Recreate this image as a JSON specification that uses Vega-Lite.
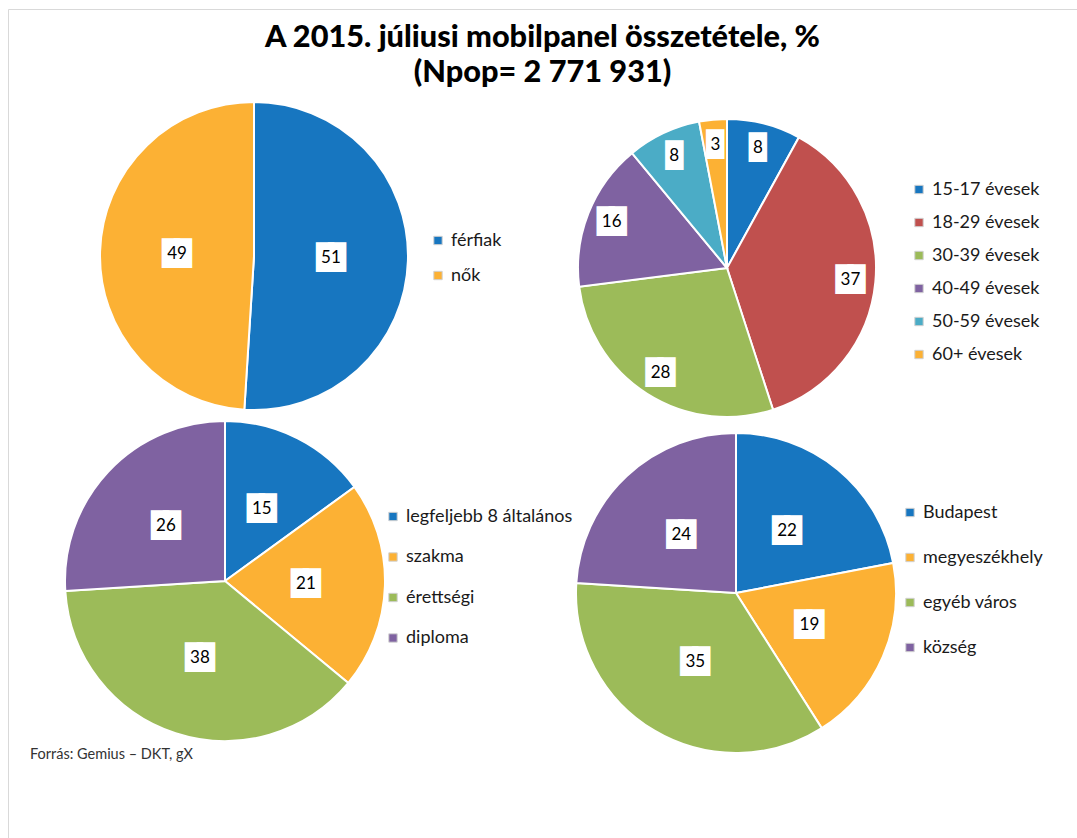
{
  "$schema": "https://vega.github.io/schema/vega-lite/v6.json",
  "width": 1069,
  "height": 829,
  "autosize": {"type": "none"},
  "padding": {"left": 8, "top": 9, "right": 0, "bottom": 0},
  "background": "white",
  "config": {"view": {"stroke": "#d9d9d9", "strokeWidth": 1}, "font": "Lato", "legend": {"labelLimit": 400}},
  "title": {
    "text": ["A 2015. júliusi mobilpanel összetétele, %", "(Npop= 2 771 931)"],
    "font": "Lato", "fontSize": 30.7, "fontWeight": 900, "color": "#000000",
    "lineHeight": 35, "anchor": "middle", "frame": "group", "offset": -80
  },
  "layer": [
    {
      "data": {"values": [
        {"pie": "nem", "cat": "férfiak", "v": 51, "i": 1},
        {"pie": "nem", "cat": "nők", "v": 49, "i": 2}
      ]},
      "encoding": {
        "x": {"field": "pie", "type": "nominal", "axis": null, "scale": {"range": [246, 246]}},
        "y": {"field": "pie", "type": "nominal", "axis": null, "scale": {"range": [247, 247]}},
        "theta": {"field": "v", "type": "quantitative", "stack": true},
        "order": {"field": "i", "type": "quantitative"}
      },
      "layer": [
        {"mark": {"type": "arc", "radius": 154, "stroke": "white", "strokeWidth": 2},
         "encoding": {"color": {"field": "cat", "type": "nominal",
           "scale": {"domain": ["férfiak", "nők"], "range": ["#1776c0", "#fcb134"]},
           "legend": {"orient": "none", "legendX": 421, "legendY": 222.5, "title": null, "padding": 0,
             "symbolType": "square", "symbolSize": 70, "symbolStrokeColor": "#d0d0d0", "symbolStrokeWidth": 1,
             "labelFont": "Lato", "labelFontSize": 18, "labelColor": "#1a1a1a", "labelOffset": 4, "labelLimit": 400, "rowPadding": 17}}}},
        {"mark": {"type": "text", "radius": 77, "font": "DejaVu Sans Mono", "fontSize": 20, "color": "white", "stroke": "white", "strokeWidth": 6, "strokeJoin": "miter"},
         "encoding": {"detail": {"field": "cat"}, "text": {"condition": {"test": "datum.v >= 10", "value": "██"}, "value": "█"}}},
        {"mark": {"type": "text", "radius": 77, "fontSize": 17, "color": "#000000"},
         "encoding": {"detail": {"field": "cat"}, "text": {"field": "v", "type": "quantitative"}}}
      ]
    },
    {
      "data": {"values": [
        {"pie": "kor", "cat": "15-17 évesek", "v": 8, "i": 1},
        {"pie": "kor", "cat": "18-29 évesek", "v": 37, "i": 2},
        {"pie": "kor", "cat": "30-39 évesek", "v": 28, "i": 3},
        {"pie": "kor", "cat": "40-49 évesek", "v": 16, "i": 4},
        {"pie": "kor", "cat": "50-59 évesek", "v": 8, "i": 5},
        {"pie": "kor", "cat": "60+ évesek", "v": 3, "i": 6}
      ]},
      "encoding": {
        "x": {"field": "pie", "type": "nominal", "axis": null, "scale": {"range": [719, 719]}},
        "y": {"field": "pie", "type": "nominal", "axis": null, "scale": {"range": [259, 259]}},
        "theta": {"field": "v", "type": "quantitative", "stack": true},
        "order": {"field": "i", "type": "quantitative"}
      },
      "layer": [
        {"mark": {"type": "arc", "radius": 149, "stroke": "white", "strokeWidth": 2},
         "encoding": {"color": {"field": "cat", "type": "nominal",
           "scale": {"domain": ["15-17 évesek", "18-29 évesek", "30-39 évesek", "40-49 évesek", "50-59 évesek", "60+ évesek"],
                     "range": ["#1776c0", "#c0504e", "#9cbb59", "#7f62a1", "#4bacc6", "#fcb134"]},
           "legend": {"orient": "none", "legendX": 902, "legendY": 171.5, "title": null, "padding": 0,
             "symbolType": "square", "symbolSize": 70, "symbolStrokeColor": "#d0d0d0", "symbolStrokeWidth": 1,
             "labelFont": "Lato", "labelFontSize": 18, "labelColor": "#1a1a1a", "labelOffset": 4, "labelLimit": 400, "rowPadding": 15}}}},
        {"mark": {"type": "text", "radius": 124, "font": "DejaVu Sans Mono", "fontSize": 20, "color": "white", "stroke": "white", "strokeWidth": 6, "strokeJoin": "miter"},
         "encoding": {"detail": {"field": "cat"}, "text": {"condition": {"test": "datum.v >= 10", "value": "██"}, "value": "█"}}},
        {"mark": {"type": "text", "radius": 124, "fontSize": 17, "color": "#000000"},
         "encoding": {"detail": {"field": "cat"}, "text": {"field": "v", "type": "quantitative"}}}
      ]
    },
    {
      "data": {"values": [
        {"pie": "vegzettseg", "cat": "legfeljebb 8 általános", "v": 15, "i": 1},
        {"pie": "vegzettseg", "cat": "szakma", "v": 21, "i": 2},
        {"pie": "vegzettseg", "cat": "érettségi", "v": 38, "i": 3},
        {"pie": "vegzettseg", "cat": "diploma", "v": 26, "i": 4}
      ]},
      "encoding": {
        "x": {"field": "pie", "type": "nominal", "axis": null, "scale": {"range": [217, 217]}},
        "y": {"field": "pie", "type": "nominal", "axis": null, "scale": {"range": [572, 572]}},
        "theta": {"field": "v", "type": "quantitative", "stack": true},
        "order": {"field": "i", "type": "quantitative"}
      },
      "layer": [
        {"mark": {"type": "arc", "radius": 160, "stroke": "white", "strokeWidth": 2},
         "encoding": {"color": {"field": "cat", "type": "nominal",
           "scale": {"domain": ["legfeljebb 8 általános", "szakma", "érettségi", "diploma"],
                     "range": ["#1776c0", "#fcb134", "#9cbb59", "#7f62a1"]},
           "legend": {"orient": "none", "legendX": 376, "legendY": 498.5, "title": null, "padding": 0,
             "symbolType": "square", "symbolSize": 70, "symbolStrokeColor": "#d0d0d0", "symbolStrokeWidth": 1,
             "labelFont": "Lato", "labelFontSize": 18, "labelColor": "#1a1a1a", "labelOffset": 4, "labelLimit": 400, "rowPadding": 22.5}}}},
        {"mark": {"type": "text", "radius": 81, "font": "DejaVu Sans Mono", "fontSize": 20, "color": "white", "stroke": "white", "strokeWidth": 6, "strokeJoin": "miter"},
         "encoding": {"detail": {"field": "cat"}, "text": {"condition": {"test": "datum.v >= 10", "value": "██"}, "value": "█"}}},
        {"mark": {"type": "text", "radius": 81, "fontSize": 17, "color": "#000000"},
         "encoding": {"detail": {"field": "cat"}, "text": {"field": "v", "type": "quantitative"}}}
      ]
    },
    {
      "data": {"values": [
        {"pie": "telepules", "cat": "Budapest", "v": 22, "i": 1},
        {"pie": "telepules", "cat": "megyeszékhely", "v": 19, "i": 2},
        {"pie": "telepules", "cat": "egyéb város", "v": 35, "i": 3},
        {"pie": "telepules", "cat": "község", "v": 24, "i": 4}
      ]},
      "encoding": {
        "x": {"field": "pie", "type": "nominal", "axis": null, "scale": {"range": [728, 728]}},
        "y": {"field": "pie", "type": "nominal", "axis": null, "scale": {"range": [584, 584]}},
        "theta": {"field": "v", "type": "quantitative", "stack": true},
        "order": {"field": "i", "type": "quantitative"}
      },
      "layer": [
        {"mark": {"type": "arc", "radius": 160, "stroke": "white", "strokeWidth": 2},
         "encoding": {"color": {"field": "cat", "type": "nominal",
           "scale": {"domain": ["Budapest", "megyeszékhely", "egyéb város", "község"],
                     "range": ["#1776c0", "#fcb134", "#9cbb59", "#7f62a1"]},
           "legend": {"orient": "none", "legendX": 893, "legendY": 494.5, "title": null, "padding": 0,
             "symbolType": "square", "symbolSize": 70, "symbolStrokeColor": "#d0d0d0", "symbolStrokeWidth": 1,
             "labelFont": "Lato", "labelFontSize": 18, "labelColor": "#1a1a1a", "labelOffset": 4, "labelLimit": 400, "rowPadding": 27}}}},
        {"mark": {"type": "text", "radius": 80, "font": "DejaVu Sans Mono", "fontSize": 20, "color": "white", "stroke": "white", "strokeWidth": 6, "strokeJoin": "miter"},
         "encoding": {"detail": {"field": "cat"}, "text": {"condition": {"test": "datum.v >= 10", "value": "██"}, "value": "█"}}},
        {"mark": {"type": "text", "radius": 80, "fontSize": 17, "color": "#000000"},
         "encoding": {"detail": {"field": "cat"}, "text": {"field": "v", "type": "quantitative"}}}
      ]
    },
    {
      "data": {"values": [{"note": "Forrás: Gemius  – DKT, gX"}]},
      "mark": {"type": "text", "align": "left", "baseline": "middle", "fontSize": 14.5, "color": "#333333"},
      "encoding": {
        "x": {"field": "note", "type": "nominal", "axis": null, "scale": {"range": [22, 22]}},
        "y": {"field": "note", "type": "nominal", "axis": null, "scale": {"range": [746, 746]}},
        "text": {"field": "note"}
      }
    }
  ],
  "resolve": {"scale": {"x": "independent", "y": "independent", "color": "independent", "theta": "independent"}}
}
